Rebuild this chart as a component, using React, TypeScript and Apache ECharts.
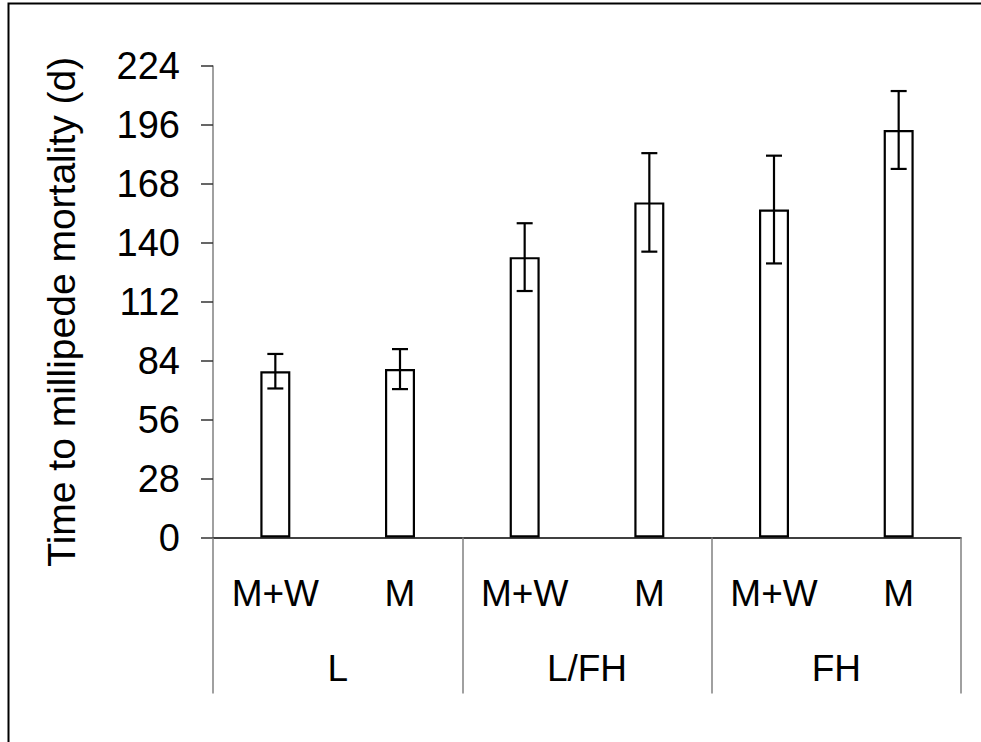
import React, { useEffect, useRef } from "react";
import * as echarts from "echarts";

const treatments = ["M+W", "M", "M+W", "M", "M+W", "M"];
const sites = ["L", "L/FH", "FH"];
const meanDays = [79, 80, 133.2, 159.2, 155.8, 193.6];
const errDays = [8.2, 9.5, 16.1, 23.4, 25.6, 18.5];
const yTicks = { min: 0, max: 224, interval: 28 };
const yTitle = "Time to millipede mortality (d)";

const FONT = "'Liberation Sans', Arial, sans-serif";

export default function App() {
  const ref = useRef<HTMLDivElement>(null);
  useEffect(() => {
    if (!ref.current) return;
    const chart = echarts.init(ref.current, null, { renderer: "svg" });
    const errData = meanDays.map((m, i) => [i, m - errDays[i], m + errDays[i]]);
    chart.setOption({
      animation: false,
      backgroundColor: "#fff",
      textStyle: { fontFamily: FONT },
      grid: { left: 213, right: 20, top: 66, bottom: 204.5, containLabel: false },
      xAxis: [
        {
          type: "category",
          data: treatments,
          position: "bottom",
          axisLine: { show: true, lineStyle: { color: "#000", width: 1.5 } },
          axisTick: { show: false },
          axisLabel: { color: "#000", fontSize: 37, fontFamily: FONT, margin: 37, interval: 0 },
        },
        {
          type: "category",
          data: sites,
          position: "bottom",
          axisLine: { show: false },
          axisTick: { show: true, length: 156, inside: false, lineStyle: { color: "#808080", width: 1.5 } },
          axisLabel: { color: "#000", fontSize: 37, fontFamily: FONT, margin: 112, interval: 0 },
        },
      ],
      yAxis: {
        type: "value",
        min: yTicks.min,
        max: yTicks.max,
        interval: yTicks.interval,
        name: yTitle,
        nameLocation: "middle",
        nameRotate: 90,
        nameGap: 132,
        nameTextStyle: { color: "#000", fontSize: 39, fontFamily: FONT, padding: [0, 20, 0, 0] },
        axisLine: { show: true, lineStyle: { color: "#808080", width: 1.5 } },
        axisTick: { show: true, length: 12, lineStyle: { color: "#333", width: 1.5 } },
        axisLabel: { color: "#000", fontSize: 38, fontFamily: FONT, margin: 33 },
        splitLine: { show: false },
      },
      series: [
        {
          type: "bar",
          xAxisIndex: 0,
          data: meanDays,
          barWidth: 30,
          itemStyle: { color: "#fff", borderColor: "#000", borderWidth: 2.2 },
        },
        {
          type: "custom",
          xAxisIndex: 0,
          data: errData,
          z: 5,
          renderItem: (params: any, api: any) => {
            const x = api.value(0);
            const lo = api.coord([x, api.value(1)]);
            const hi = api.coord([x, api.value(2)]);
            const cap = 8;
            const style = { stroke: "#000", lineWidth: 2.2 };
            return {
              type: "group",
              children: [
                { type: "line", shape: { x1: lo[0], y1: lo[1], x2: hi[0], y2: hi[1] }, style },
                { type: "line", shape: { x1: hi[0] - cap, y1: hi[1], x2: hi[0] + cap, y2: hi[1] }, style },
                { type: "line", shape: { x1: lo[0] - cap, y1: lo[1], x2: lo[0] + cap, y2: lo[1] }, style },
              ],
            };
          },
        },
      ],
      graphic: [
        {
          type: "rect",
          shape: { x: 8.5, y: 3.5, width: 1000, height: 1000 },
          style: { fill: "none", stroke: "#000", lineWidth: 2 },
          silent: true,
        },
      ],
    });
    return () => chart.dispose();
  }, []);
  return (
    <div
      ref={ref}
      style={{ position: "fixed", left: 0, top: 0, width: 981, height: 742, background: "#fff" }}
    />
  );
}
